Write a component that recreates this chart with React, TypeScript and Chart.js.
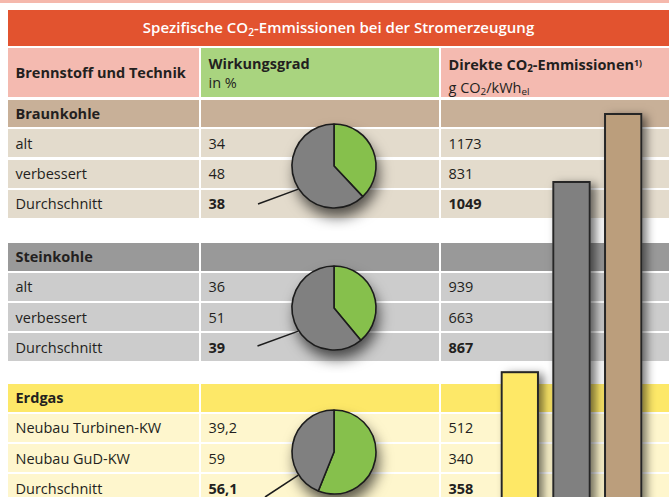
import React, { useEffect, useRef } from "react";
import { Chart, registerables } from "chart.js";
Chart.register(...registerables);

// ---- data ----
const groupNames = ["Braunkohle", "Steinkohle", "Erdgas"];
const braunkohleTech = ["alt", "verbessert", "Durchschnitt"];
const steinkohleTech = ["alt", "verbessert", "Durchschnitt"];
const erdgasTech = ["Neubau Turbinen-KW", "Neubau GuD-KW", "Durchschnitt"];
const braunkohleEff = [34, 48, 38];
const steinkohleEff = [36, 51, 39];
const erdgasEff = [39.2, 59, 56.1];
const braunkohleCO2 = [1173, 831, 1049];
const steinkohleCO2 = [939, 663, 867];
const erdgasCO2 = [512, 340, 358];
const barCategories = ["Erdgas", "Steinkohle", "Braunkohle"];
const barValues = [erdgasCO2[2], steinkohleCO2[2], braunkohleCO2[2]];

// ---- styles ----
const FONT = "'Open Sans', 'DejaVu Sans', sans-serif";
const TXT = "#231f20";
const groupStyles = [
  { top: 99.5, head: "#c8b098", row: "#e3dbcc", bar: "#bb9e7c", pieCy: 166, leader: [-76, 38] },
  { top: 243, head: "#999999", row: "#cccccc", bar: "#808080", pieCy: 308, leader: [-76.5, 38] },
  { top: 384, head: "#fde868", row: "#fef6cd", bar: "#fee866", pieCy: 451.5, leader: [-69, 45] },
];
const barColors = [groupStyles[2].bar, groupStyles[1].bar, groupStyles[0].bar];
const cols = [
  { x: 8, w: 191 },
  { x: 201, w: 238 },
  { x: 441, w: 228 },
];

const fmt = (v: number) => String(v).replace(".", ",");

function Cell(props: { x: number; y: number; w: number; h: number; bg: string; children?: any; style?: any }) {
  return (
    <div
      style={{
        position: "absolute",
        left: props.x,
        top: props.y,
        width: props.w,
        height: props.h,
        background: props.bg,
        display: "flex",
        alignItems: "center",
        boxSizing: "border-box",
        paddingLeft: 7.5,
        color: TXT,
        fontFamily: FONT,
        fontSize: 14.5,
        whiteSpace: "nowrap",
        ...(props.style || {}),
      }}
    >
      {props.children}
    </div>
  );
}

function Pie({ value, cy, leader }: { value: number; cy: number; leader: number[] }) {
  const ref = useRef<HTMLCanvasElement>(null);
  useEffect(() => {
    const plugin = {
      id: "pieDecor",
      beforeDatasetsDraw(chart: any) {
        const arc = chart.getDatasetMeta(0).data[0];
        const { x, y, outerRadius } = arc;
        const ctx = chart.ctx;
        ctx.save();
        ctx.shadowColor = "rgba(0,0,0,0.65)";
        ctx.shadowBlur = 14;
        ctx.shadowOffsetX = 3;
        ctx.shadowOffsetY = 9;
        ctx.fillStyle = "#808080";
        ctx.beginPath();
        ctx.arc(x, y, outerRadius, 0, Math.PI * 2);
        ctx.fill();
        ctx.restore();
      },
      afterDatasetsDraw(chart: any) {
        const arc = chart.getDatasetMeta(0).data[0];
        const { x, y, outerRadius } = arc;
        const ctx = chart.ctx;
        const a = (147 * Math.PI) / 180;
        ctx.save();
        ctx.strokeStyle = "#1c1c1c";
        ctx.lineWidth = 1.5;
        ctx.beginPath();
        ctx.moveTo(x + Math.cos(a) * (outerRadius + 0.5), y + Math.sin(a) * (outerRadius + 0.5));
        ctx.lineTo(x + leader[0], y + leader[1]);
        ctx.stroke();
        ctx.restore();
      },
    };
    const chart = new Chart(ref.current as HTMLCanvasElement, {
      type: "pie",
      data: {
        labels: ["Wirkungsgrad", "Verlust"],
        datasets: [
          {
            data: [value, 100 - value],
            backgroundColor: ["#86c04c", "#808080"],
            borderColor: "#1c1c1c",
            borderWidth: 1.6,
            radius: 42,
          } as any,
        ],
      },
      options: {
        responsive: false,
        animation: false,
        events: [],
        layout: { padding: 0 },
        plugins: { legend: { display: false }, tooltip: { enabled: false } },
      },
      plugins: [plugin],
    });
    return () => chart.destroy();
  }, [value, cy]);
  return (
    <canvas
      ref={ref}
      width={200}
      height={130}
      style={{ position: "absolute", left: 234, top: cy - 65, width: 200, height: 130 }}
    />
  );
}

function Bars() {
  const ref = useRef<HTMLCanvasElement>(null);
  useEffect(() => {
    const shadow = {
      id: "barShadow",
      beforeDatasetsDraw(chart: any) {
        const ctx = chart.ctx;
        ctx.save();
        ctx.shadowColor = "rgba(0,0,0,0.55)";
        ctx.shadowBlur = 9;
        ctx.shadowOffsetX = 5;
        ctx.shadowOffsetY = 3;
        ctx.fillStyle = "#555";
        chart.getDatasetMeta(0).data.forEach((b: any) => {
          ctx.fillRect(b.x - b.width / 2, b.y, b.width, b.base - b.y);
        });
        ctx.restore();
      },
    };
    const chart = new Chart(ref.current as HTMLCanvasElement, {
      type: "bar",
      data: {
        labels: barCategories,
        datasets: [
          {
            data: barValues,
            backgroundColor: barColors,
            borderColor: "#262626",
            borderWidth: 2,
            borderSkipped: false,
            barPercentage: 0.74,
            categoryPercentage: 1,
            clip: false,
          } as any,
        ],
      },
      options: {
        responsive: false,
        animation: false,
        events: [],
        layout: { padding: { left: 0, right: 20, top: 0, bottom: 0 } },
        scales: {
          x: { display: false },
          y: { display: false, min: 0, max: 1100 },
        },
        plugins: { legend: { display: false }, tooltip: { enabled: false } },
      },
      plugins: [shadow],
    });
    return () => chart.destroy();
  }, []);
  return (
    <canvas
      ref={ref}
      width={175}
      height={411}
      style={{ position: "absolute", left: 494, top: 94, width: 175, height: 411 }}
    />
  );
}

export default function App() {
  const techs = [braunkohleTech, steinkohleTech, erdgasTech];
  const effs = [braunkohleEff, steinkohleEff, erdgasEff];
  const co2s = [braunkohleCO2, steinkohleCO2, erdgasCO2];
  const sub = { fontSize: "0.68em", verticalAlign: "-0.25em" };
  const cells: any[] = [];
  groupNames.forEach((g, gi) => {
    const st = groupStyles[gi];
    cols.forEach((c, ci) =>
      cells.push(
        <Cell key={`h${gi}${ci}`} x={c.x} y={st.top} w={c.w} h={27.5} bg={st.head} style={{ fontWeight: 700 }}>
          {ci === 0 ? g : ""}
        </Cell>
      )
    );
    techs[gi].forEach((t, ri) => {
      const y = st.top + 29.8 + ri * 30.2;
      const bold = ri === 2 ? { fontWeight: 700 } : {};
      cells.push(
        <Cell key={`r${gi}${ri}a`} x={cols[0].x} y={y} w={cols[0].w} h={28} bg={st.row}>{t}</Cell>,
        <Cell key={`r${gi}${ri}b`} x={cols[1].x} y={y} w={cols[1].w} h={28} bg={st.row} style={bold}>{fmt(effs[gi][ri])}</Cell>,
        <Cell key={`r${gi}${ri}c`} x={cols[2].x} y={y} w={cols[2].w} h={28} bg={st.row} style={bold}>{fmt(co2s[gi][ri])}</Cell>
      );
    });
  });
  return (
    <div style={{ position: "absolute", left: 0, top: 0, width: 669, height: 497, overflow: "hidden", background: "#fff" }}>
      <div style={{ position: "absolute", left: 0, top: 0, width: 669, height: 2.5, background: "#f5b8ac" }} />
      <div
        style={{
          position: "absolute", left: 8, top: 10, width: 661, height: 36, background: "#e2532f",
          color: "#fff", fontFamily: FONT, fontWeight: 600, fontSize: 15,
          display: "flex", alignItems: "center", justifyContent: "center",
        }}
      >
        <span>Spezifische CO<span style={sub}>2</span>-Emmissionen bei der Stromerzeugung</span>
      </div>
      <Cell x={cols[0].x} y={48} w={cols[0].w} h={49} bg="#f4bab0" style={{ fontWeight: 700 }}>Brennstoff und Technik</Cell>
      <Cell x={cols[1].x} y={48} w={cols[1].w} h={49} bg="#a9d47f" style={{ display: "block", paddingTop: 6, lineHeight: "19px" }}>
        <div style={{ fontWeight: 700 }}>Wirkungsgrad</div>
        <div>in %</div>
      </Cell>
      <Cell x={cols[2].x} y={48} w={cols[2].w} h={49} bg="#f4bab0" style={{ display: "block", paddingTop: 6, lineHeight: "19px" }}>
        <div style={{ fontWeight: 700 }}>
          Direkte CO<span style={sub}>2</span>-Emmissionen<span style={{ fontSize: "0.6em", verticalAlign: "0.45em" }}>1)</span>
        </div>
        <div>g CO<span style={sub}>2</span>/kWh<span style={sub}>el</span></div>
      </Cell>
      {cells}
      {groupNames.map((g, gi) => (
        <Pie key={g} value={effs[gi][2]} cy={groupStyles[gi].pieCy} leader={groupStyles[gi].leader} />
      ))}
      <Bars />
    </div>
  );
}
